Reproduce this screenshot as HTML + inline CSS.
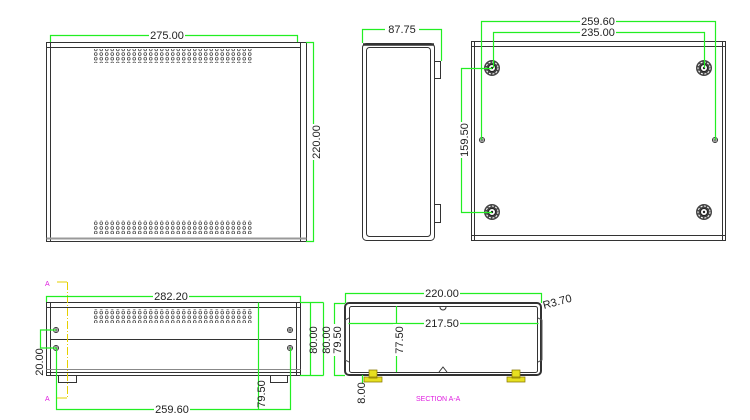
<!DOCTYPE html>
<html><head><meta charset="utf-8"><style>
html,body{margin:0;padding:0;background:#fff;}
svg{display:block;}
text{font-family:"Liberation Sans",sans-serif;font-size:11px;fill:#222;}
</style></head><body>
<svg width="750" height="420" viewBox="0 0 750 420" xmlns="http://www.w3.org/2000/svg">
<defs>
<pattern id="holes" x="93" y="0" width="5.5" height="4.7" patternUnits="userSpaceOnUse">
<circle cx="2.75" cy="2.35" r="1.4" fill="none" stroke="#444" stroke-width="0.8"/>
</pattern>
<g id="foot">
<circle r="8" fill="#444"/><circle r="6" fill="none" stroke="#fff" stroke-width="1" stroke-dasharray="2 1.5"/>
<circle r="3.5" fill="#fff" stroke="#222" stroke-width="1"/><circle r="1.2" fill="#222"/>
</g>
<g id="screw"><circle r="2.5" fill="none" stroke="#333" stroke-width="1"/><path d="M-2.5 0H2.5M0 -2.5V2.5" stroke="#333" stroke-width="0.8"/></g>
</defs>
<g fill="none" stroke="#333" stroke-width="1">
<rect x="46.5" y="42.5" width="260" height="199"/>
<line x1="50.5" y1="42.5" x2="50.5" y2="241.5"/>
<line x1="300.5" y1="42.5" x2="300.5" y2="241.5"/>
<line x1="46.5" y1="47.5" x2="300.5" y2="47.5"/>
<line x1="46.5" y1="238.5" x2="306.5" y2="238.5" stroke="#999" stroke-width="2"/>
<rect x="362.5" y="43.5" width="72" height="197" rx="4"/>
<rect x="366.5" y="47.5" width="64" height="189" rx="3"/>
<line x1="363" y1="44.5" x2="434" y2="44.5" stroke-width="2.5"/>
<rect x="434.5" y="61.5" width="6" height="17"/>
<rect x="434.5" y="204.5" width="6" height="18"/>
<rect x="471.5" y="41.5" width="254" height="199"/>
<line x1="474.5" y1="41.5" x2="474.5" y2="240.5"/>
<line x1="722.5" y1="41.5" x2="722.5" y2="240.5"/>
<line x1="471.5" y1="46.5" x2="725.5" y2="46.5"/>
<line x1="471.5" y1="235.5" x2="725.5" y2="235.5"/>
<rect x="46.5" y="302.5" width="254" height="73"/>
<line x1="50.5" y1="302.5" x2="50.5" y2="375.5"/>
<line x1="296.5" y1="302.5" x2="296.5" y2="375.5"/>
<line x1="46.5" y1="307.5" x2="300.5" y2="307.5"/>
<line x1="50.5" y1="339.5" x2="296.5" y2="339.5"/>
<line x1="46.5" y1="369.5" x2="300.5" y2="369.5" stroke="#888"/>
<line x1="46.5" y1="372.5" x2="300.5" y2="372.5"/>
<path d="M58.5 375.5V382.5H76.5V375.5M270.5 375.5V382.5H287.5V375.5"/>
<rect x="345" y="303" width="196" height="72" rx="4" stroke-width="2"/>
<rect x="349.5" y="306.5" width="188" height="66" rx="2"/>
<path d="M349 318L345 320V360L349 362M538 318L542 320V360L538 362" stroke="#555"/>
<path d="M440 307a3 3 0 0 0 6 0M439 372l4-5 4 5" stroke="#333"/>
</g>
<rect x="93" y="49" width="160" height="14" fill="url(#holes)"/>
<rect x="93" y="220" width="160" height="14" fill="url(#holes)"/>
<rect x="93" y="309" width="160" height="14" fill="url(#holes)"/>
<use href="#foot" x="492" y="68"/><use href="#foot" x="704" y="68"/>
<use href="#foot" x="492" y="212"/><use href="#foot" x="704" y="212"/>
<use href="#screw" x="482" y="140"/><use href="#screw" x="715" y="140"/>
<use href="#screw" x="56" y="330"/><use href="#screw" x="56" y="348"/>
<use href="#screw" x="290" y="330"/><use href="#screw" x="290" y="348"/>
<g fill="#e6e020" stroke="#887700" stroke-width="0.7">
<path d="M364 377h18v5h-18z M369 370h8v8h-8z"/>
<path d="M507 377h18v5h-18z M512 370h8v8h-8z"/>
</g>
<g stroke="#e6d000" stroke-width="1" fill="none">
<line x1="67.5" y1="282" x2="67.5" y2="398" stroke-dasharray="8 2 1 2"/>
<path d="M57 282H67M57 398H67"/>
</g>
<text x="45" y="286" style="fill:#e020e0;font-size:7px">A</text>
<text x="45" y="401" style="fill:#e020e0;font-size:7px">A</text>
<text x="416" y="401" style="fill:#e020e0;font-size:7px">SECTION A-A</text>
<g stroke="#22ee22" stroke-width="1.2" fill="none">
<path d="M50.5 42V35.5H297.5V42"/>
<path d="M306 42.5H313.5V241.5H306"/>
<path d="M362.5 43V29.5H441.5V61"/>
<path d="M481.5 140V21.5H715.5V140"/>
<path d="M493.5 68V32.5H704.5V68"/>
<path d="M492 68.5H461.5V212.5H492"/>
<path d="M46.5 302V296.5H300.5V302"/>
<path d="M300 302.5H323.5M300 375.5H323.5M310.5 302.5V375.5M323.5 302.5V375.5"/>
<path d="M258.5 302.5V410"/>
<path d="M56.5 348V409.5H290.5V348"/>
<path d="M56 330H40.5V348H56"/>
<path d="M345.5 303V293.5H541.5V303"/>
<path d="M348.5 323.5H538.5"/>
<path d="M396.5 306V372"/>
<path d="M345 303.5H334.5V375.5H345"/>
<path d="M362.5 375V383"/>
</g>
<g>
<rect x="149" y="29" width="36" height="12" fill="#fff"/><text x="167" y="39" text-anchor="middle">275.00</text>
<rect x="385" y="23" width="34" height="12" fill="#fff"/><text x="402" y="33" text-anchor="middle">87.75</text>
<rect x="580" y="15" width="36" height="12" fill="#fff"/><text x="598" y="25" text-anchor="middle">259.60</text>
<rect x="580" y="26" width="36" height="12" fill="#fff"/><text x="598" y="36" text-anchor="middle">235.00</text>
<rect x="153" y="290" width="36" height="12" fill="#fff"/><text x="171" y="300" text-anchor="middle">282.20</text>
<rect x="154" y="403" width="36" height="12" fill="#fff"/><text x="172" y="413" text-anchor="middle">259.60</text>
<rect x="424" y="287" width="36" height="12" fill="#fff"/><text x="442" y="297" text-anchor="middle">220.00</text>
<rect x="424" y="317" width="36" height="12" fill="#fff"/><text x="442" y="327" text-anchor="middle">217.50</text>
<text x="544" y="309" transform="rotate(-15 544 309)">R3.70</text>
<g transform="translate(317 142) rotate(-90)"><rect x="-18" y="-7" width="36" height="12" fill="#fff"/><text x="0" y="3" text-anchor="middle">220.00</text></g>
<g transform="translate(465 140) rotate(-90)"><rect x="-18" y="-7" width="36" height="12" fill="#fff"/><text x="0" y="3" text-anchor="middle">159.50</text></g>
<g transform="translate(314 340) rotate(-90)"><text x="0" y="3" text-anchor="middle">80.00</text></g>
<g transform="translate(327 340) rotate(-90)"><text x="0" y="3" text-anchor="middle">80.00</text></g>
<g transform="translate(262 394) rotate(-90)"><text x="0" y="3" text-anchor="middle">79.50</text></g>
<g transform="translate(40 362) rotate(-90)"><text x="0" y="3" text-anchor="middle">20.00</text></g>
<g transform="translate(338 340) rotate(-90)"><rect x="-16" y="-7" width="32" height="12" fill="#fff"/><text x="0" y="3" text-anchor="middle">79.50</text></g>
<g transform="translate(400 340) rotate(-90)"><rect x="-16" y="-7" width="32" height="12" fill="#fff"/><text x="0" y="3" text-anchor="middle">77.50</text></g>
<g transform="translate(362 393) rotate(-90)"><text x="0" y="3" text-anchor="middle">8.00</text></g>
</g>
</svg>
</body></html>
